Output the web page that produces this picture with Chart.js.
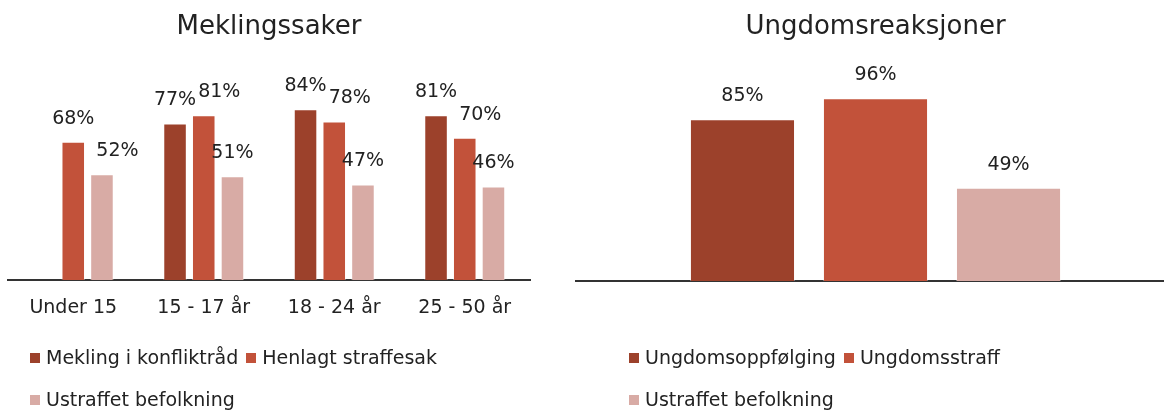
<!DOCTYPE html>
<html>
<head>
<meta charset="utf-8">
<script src="https://cdn.jsdelivr.net/npm/chart.js"></script>
<style>
  body { margin: 0; background: #fff; font-family: "DejaVu Sans", sans-serif; }
  #wrap { position: relative; width: 1164px; height: 411px; overflow: hidden; }
  .box { position: absolute; }
  .legend { position: absolute; display: flex; flex-wrap: wrap; width: 520px; row-gap: 19px; column-gap: 8px; color: #222; font-size: 19px; line-height: 23px; }
  .legend span.item { display: flex; align-items: center; white-space: nowrap; }
  .legend i { display: inline-block; width: 10px; height: 10px; margin-right: 6px; }
</style>
</head>
<body>
<div id="wrap">
  <div class="box" style="left:0;top:0;width:565px;height:347px"><canvas id="left"></canvas></div>
  <div class="box" style="left:575px;top:0;width:601px;height:290px"><canvas id="right"></canvas></div>
  <div class="legend" id="legendLeft" style="left:30px;top:346px"></div>
  <div class="legend" id="legendRight" style="left:629px;top:346px"></div>
</div>
<script>
// Meklingssaker
const ageGroups = ["Under 15", "15 - 17 år", "18 - 24 år", "25 - 50 år"];
const mekling = [null, 77, 84, 81];
const henlagt = [68, 81, 78, 70];
const ustraffetLeft = [52, 51, 47, 46];

// Ungdomsreaksjoner
const ungdomsoppfolging = [85];
const ungdomsstraff = [96];
const ustraffetRight = [49];

const dark = "#9c412b", mid = "#c2523a", light = "#d8aba5";
const textColor = "#222";
const fontFamily = "'DejaVu Sans', sans-serif";

// draws the % labels above bars, pushed right when they would overlap
const barLabels = {
    id: "barLabels",
    afterDatasetsDraw(chart) {
        const ctx = chart.ctx;
        ctx.save();
        ctx.font = "19px " + fontFamily;
        ctx.fillStyle = textColor;
        ctx.textAlign = "center";
        ctx.textBaseline = "middle";
        const n = chart.data.labels.length;
        for (let i = 0; i < n; i++) {
            let prev = null;
            chart.data.datasets.forEach((ds, d) => {
                const v = ds.data[i];
                if (v == null) return;
                const bar = chart.getDatasetMeta(d).data[i];
                const txt = v + "%";
                const w = ctx.measureText(txt).width;
                let x = bar.x;
                const y = bar.y - 23;
                if (prev && Math.abs(prev.y - y) < 48 && x - w / 2 < prev.right + 2) {
                    x = prev.right + 2 + w / 2;
                }
                ctx.fillText(txt, x, y);
                prev = { y: y, right: x + w / 2 };
            });
        }
        ctx.restore();
    }
};

function makeDataset(label, data, color) {
    return { label: label, data: data, backgroundColor: color, borderColor: "rgba(255,255,255,0.35)", borderWidth: 1 };
}

function baseOptions(title, titlePadBottom, showTicks, padding, catPct, barPct) {
    return {
        responsive: true,
        maintainAspectRatio: false,
        animation: false,
        layout: { padding: padding },
        datasets: { bar: { categoryPercentage: catPct, barPercentage: barPct } },
        plugins: {
            legend: { display: false },
            tooltip: { enabled: false },
            title: {
                display: true,
                text: title,
                color: textColor,
                font: { family: fontFamily, size: 26, weight: "normal" },
                padding: { top: 12, bottom: titlePadBottom }
            }
        },
        scales: {
            x: {
                grid: { display: false, drawTicks: false },
                border: { display: true, color: "#333", width: 2 },
                ticks: { display: showTicks, color: textColor, padding: 16, font: { family: fontFamily, size: 19 } }
            },
            y: { display: false, min: 0, max: 100 }
        }
    };
}

new Chart(document.getElementById("left"), {
    type: "bar",
    data: {
        labels: ageGroups,
        datasets: [
            makeDataset("Mekling i konfliktråd", mekling, dark),
            makeDataset("Henlagt straffesak", henlagt, mid),
            makeDataset("Ustraffet befolkning", ustraffetLeft, light)
        ]
    },
    options: baseOptions("Meklingssaker", 33.4, true, { left: 8, right: 35, top: 0, bottom: 12 }, 0.66, 0.82),
    plugins: [barLabels]
});

new Chart(document.getElementById("right"), {
    type: "bar",
    data: {
        labels: [""],
        datasets: [
            makeDataset("Ungdomsoppfølging", ungdomsoppfolging, dark),
            makeDataset("Ungdomsstraff", ungdomsstraff, mid),
            makeDataset("Ustraffet befolkning", ustraffetRight, light)
        ]
    },
    options: baseOptions("Ungdomsreaksjoner", 47.4, false, { left: 0, right: 0, top: 0, bottom: 9 }, 0.664, 0.79),
    plugins: [barLabels]
});

// html legends
function fillLegend(id, labels, colors) {
    const el = document.getElementById(id);
    labels.forEach((l, i) => {
        const s = document.createElement("span");
        s.className = "item";
        s.innerHTML = '<i style="background:' + colors[i] + '"></i>' + l;
        el.appendChild(s);
    });
}
fillLegend("legendLeft", ["Mekling i konfliktråd", "Henlagt straffesak", "Ustraffet befolkning"], [dark, mid, light]);
fillLegend("legendRight", ["Ungdomsoppfølging", "Ungdomsstraff", "Ustraffet befolkning"], [dark, mid, light]);
</script>
</body>
</html>
